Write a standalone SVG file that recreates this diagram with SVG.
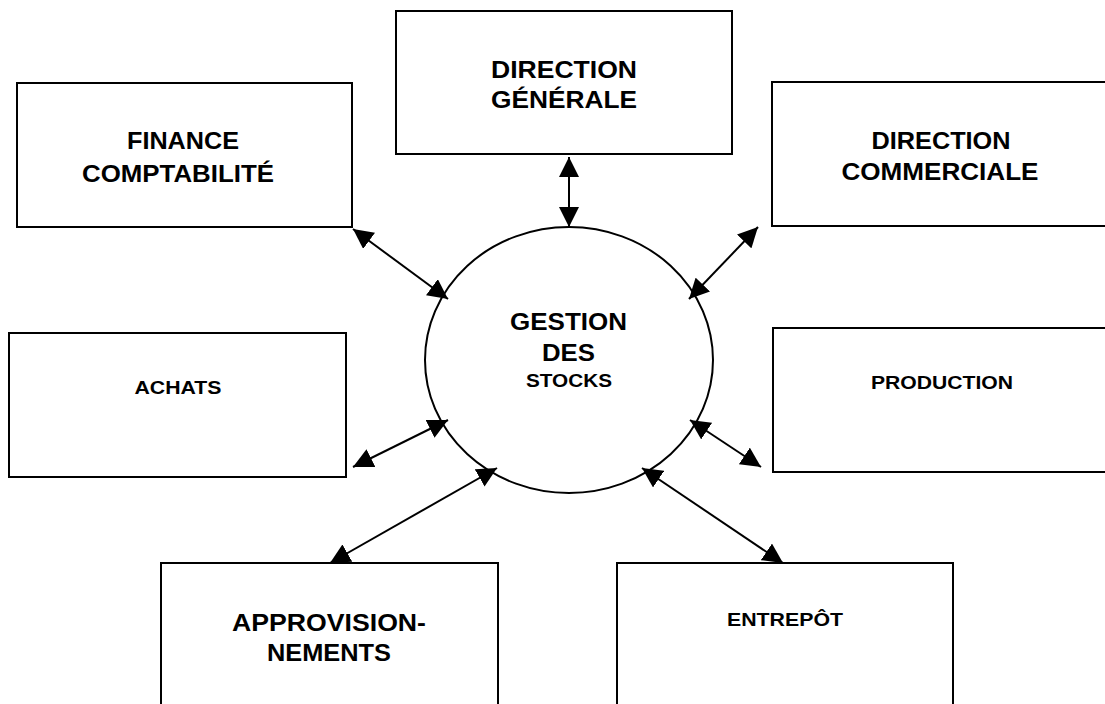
<svg xmlns="http://www.w3.org/2000/svg" width="1105" height="704" viewBox="0 0 1105 704">
<style>
.box{fill:#fff;stroke:#000;stroke-width:2}
.big{font-family:"Liberation Sans",Arial,sans-serif;font-weight:bold;font-size:23px;fill:#000;text-anchor:middle}
.small{font-family:"Liberation Sans",Arial,sans-serif;font-weight:bold;font-size:18px;fill:#000;text-anchor:middle}
.conn{stroke:#000;stroke-width:2;fill:none;marker-start:url(#ah);marker-end:url(#ah)}
</style>
<defs>
<marker id="ah" markerUnits="userSpaceOnUse" viewBox="0 0 20 20" refX="20" refY="10" markerWidth="20" markerHeight="20" orient="auto-start-reverse">
<path d="M0,0 L20,10 L0,20 Z" fill="#000"/>
</marker>
</defs>
<rect width="1105" height="704" fill="#fff"/>
<g id="node-direction-generale">
<rect class="box" x="396" y="11" width="336" height="143"/>
<text class="big" x="564" y="78" textLength="146" lengthAdjust="spacingAndGlyphs">DIRECTION</text>
<text class="big" x="564" y="108" textLength="146" lengthAdjust="spacingAndGlyphs">GÉNÉRALE</text>
</g>
<g id="node-finance">
<rect class="box" x="17" y="83" width="335" height="144"/>
<text class="big" x="183" y="149" textLength="112" lengthAdjust="spacingAndGlyphs">FINANCE</text>
<text class="big" x="178" y="182" textLength="192" lengthAdjust="spacingAndGlyphs">COMPTABILITÉ</text>
</g>
<g id="node-direction-commerciale">
<rect class="box" x="772" y="82" width="340" height="144"/>
<text class="big" x="941" y="149" textLength="139" lengthAdjust="spacingAndGlyphs">DIRECTION</text>
<text class="big" x="940" y="180" textLength="197" lengthAdjust="spacingAndGlyphs">COMMERCIALE</text>
</g>
<g id="node-achats">
<rect class="box" x="9" y="333" width="337" height="144"/>
<text class="small" x="178" y="394" textLength="87" lengthAdjust="spacingAndGlyphs">ACHATS</text>
</g>
<g id="node-production">
<rect class="box" x="773" y="328" width="340" height="144"/>
<text class="small" x="942" y="389" textLength="142" lengthAdjust="spacingAndGlyphs">PRODUCTION</text>
</g>
<g id="node-approvisionnements">
<rect class="box" x="161" y="563" width="337" height="160"/>
<text class="big" x="329" y="631" textLength="194" lengthAdjust="spacingAndGlyphs">APPROVISION-</text>
<text class="big" x="329" y="661" textLength="124" lengthAdjust="spacingAndGlyphs">NEMENTS</text>
</g>
<g id="node-entrepot">
<rect class="box" x="617" y="563" width="336" height="160"/>
<text class="small" x="785" y="626" textLength="116" lengthAdjust="spacingAndGlyphs">ENTREPÔT</text>
</g>
<g id="node-gestion-stocks">
<ellipse cx="569" cy="360" rx="144" ry="133" fill="#fff" stroke="#000" stroke-width="2"/>
<text class="big" x="568.5" y="330" textLength="117" lengthAdjust="spacingAndGlyphs">GESTION</text>
<text class="big" x="568.5" y="361" textLength="53" lengthAdjust="spacingAndGlyphs">DES</text>
<text class="small" x="569" y="387" textLength="86" lengthAdjust="spacingAndGlyphs">STOCKS</text>
</g>
<g id="connectors">
<line class="conn" x1="569" y1="157" x2="569" y2="227"/>
<line class="conn" x1="353" y1="229" x2="448" y2="299"/>
<line class="conn" x1="758" y1="227" x2="689" y2="299"/>
<line class="conn" x1="353" y1="467" x2="448" y2="420"/>
<line class="conn" x1="761" y1="467" x2="690" y2="420"/>
<line class="conn" x1="330" y1="563" x2="497" y2="468"/>
<line class="conn" x1="783" y1="563" x2="642" y2="468"/>
</g>
</svg>
